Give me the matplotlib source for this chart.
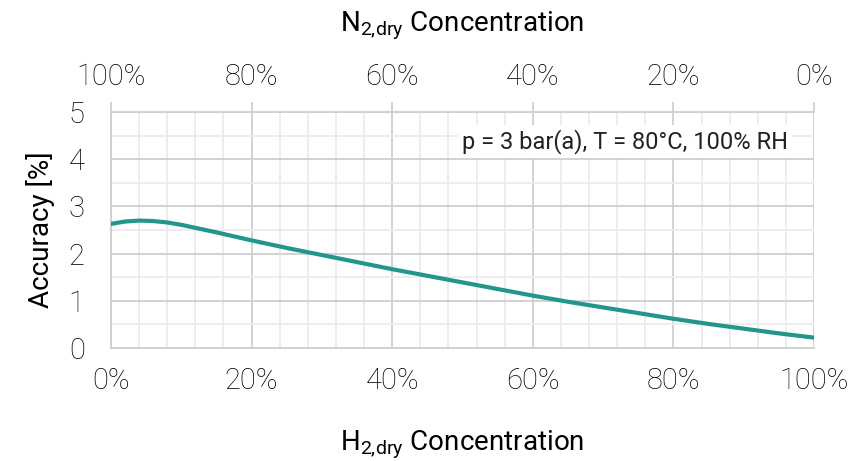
import matplotlib.pyplot as plt
from matplotlib.ticker import MultipleLocator, FixedLocator, FuncFormatter

# (H2 dry concentration in %, accuracy in %)
h2_conc = [0, 2, 4, 6, 8, 10, 15, 20, 25, 30, 35, 40, 45, 50,
           55, 60, 65, 70, 75, 80, 85, 90, 95, 100]
accuracy = [2.63, 2.68, 2.70, 2.69, 2.66, 2.61, 2.45, 2.28, 2.12, 1.97,
            1.82, 1.67, 1.53, 1.39, 1.25, 1.11, 0.98, 0.86, 0.74, 0.62,
            0.51, 0.41, 0.31, 0.22]
conc_ticks = [0, 20, 40, 60, 80, 100]
note = 'p = 3 bar(a), T = 80°C, 100% RH'

plt.rcParams['font.family'] = ['Roboto', 'DejaVu Sans']
fs_tick = 21
fs_label = 20
grey_major = '#cfcfcf'
grey_minor = '#ececec'
pct = FuncFormatter(lambda v, p: f'{v:.0f}%')

fig = plt.figure(figsize=(8.62, 4.61), dpi=100)
ax = fig.add_axes([0.1288, 0.2451, 0.8155, 0.5119])

ax.plot(h2_conc, accuracy, color='#21968c', lw=3, zorder=3)

ax.set_xlim(0, 100)
ax.set_ylim(0, 5)
ax.xaxis.set_major_locator(FixedLocator(conc_ticks))
ax.xaxis.set_minor_locator(MultipleLocator(4))
ax.yaxis.set_major_locator(MultipleLocator(1))
ax.yaxis.set_minor_locator(MultipleLocator(0.5))
ax.xaxis.set_major_formatter(pct)
ax.grid(which='major', color=grey_major, lw=1.3)
ax.grid(which='minor', color=grey_minor, lw=1.3)
ax.set_axisbelow(True)

for s in ['top', 'right']:
    ax.spines[s].set_visible(False)
for s in ['left', 'bottom']:
    ax.spines[s].set_color(grey_major)
    ax.spines[s].set_linewidth(1.3)

ax.tick_params(which='both', length=0, labelsize=fs_tick, colors='black')
ax.tick_params(axis='x', pad=14)
ax.tick_params(axis='y', pad=19)
ax.set_ylabel('Accuracy [%]', fontsize=fs_label, labelpad=10)
ax.set_xlabel('H$_{\\mathregular{2,\\!dry}}$ Concentration', fontsize=fs_label, labelpad=24)

top = ax.secondary_xaxis('top', functions=(lambda v: 100 - v, lambda v: 100 - v))
top.xaxis.set_major_locator(FixedLocator(conc_ticks))
top.xaxis.set_major_formatter(pct)
top.spines['top'].set_color(grey_major)
top.spines['top'].set_linewidth(1.3)
top.tick_params(length=7, width=1.3, color=grey_major, labelsize=fs_tick,
                labelcolor='black', pad=8)
top.set_xlabel('N$_{\\mathregular{2,\\!dry}}$ Concentration', fontsize=fs_label, labelpad=23)

for lab in ax.get_xticklabels() + ax.get_yticklabels() + top.xaxis.get_ticklabels():
    lab.set_fontweight('light')

ax.text(0.963, 0.875, note, transform=ax.transAxes, ha='right', va='center',
        fontsize=17, color='#222222',
        bbox=dict(facecolor='white', edgecolor='none', pad=3))

fig.savefig('out.png', dpi=100)
